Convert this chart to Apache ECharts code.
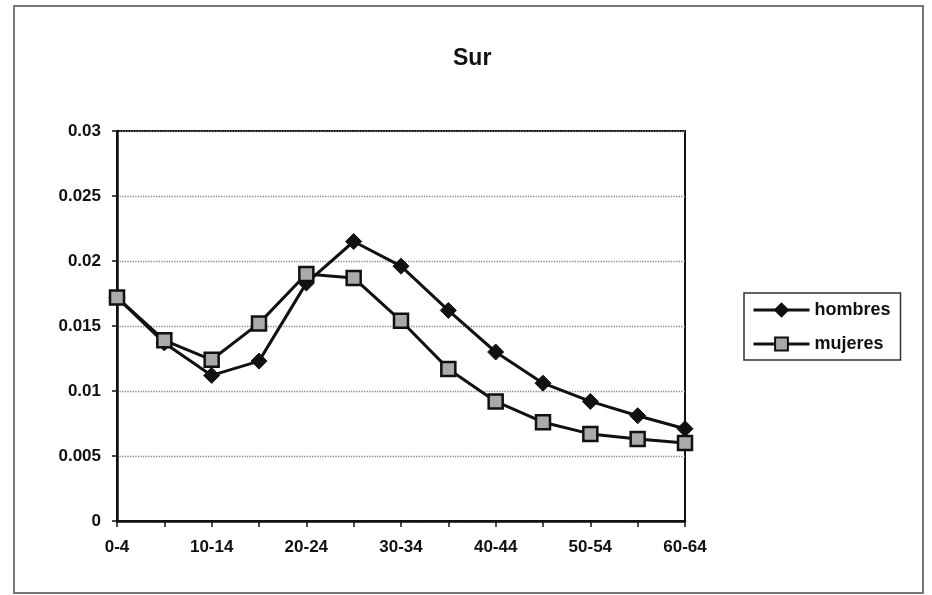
<!DOCTYPE html>
<html>
<head>
<meta charset="utf-8">
<script src="https://cdn.jsdelivr.net/npm/echarts@6/dist/echarts.min.js"></script>
<style>html,body{margin:0;padding:0;background:#fff}#c{width:932px;height:595px}</style>
</head>
<body>
<div id="c"></div>
<script>
var titleText = 'Sur';
var categories = ['0-4','5-9','10-14','15-19','20-24','25-29','30-34','35-39','40-44','45-49','50-54','55-59','60-64'];
var hombres = [0.0172,0.0137,0.0112,0.0123,0.0183,0.0215,0.0196,0.0162,0.0130,0.0106,0.0092,0.0081,0.0071];
var mujeres = [0.0172,0.0139,0.0124,0.0152,0.0190,0.0187,0.0154,0.0117,0.0092,0.0076,0.0067,0.0063,0.0060];
var seriesNames = ['hombres','mujeres'];

var chart = echarts.init(document.getElementById('c'), null, {renderer:'canvas'});
var font = 'Liberation Sans, Arial, sans-serif';
chart.setOption({
  animation:false,
  backgroundColor:'#fff',
  graphic:[{type:'rect', shape:{x:14,y:6,width:909,height:587}, style:{fill:'none', stroke:'#777', lineWidth:2}, silent:true}],
  title:{text:titleText, left:448, top:42, textStyle:{fontFamily:font, fontSize:23, fontWeight:'bold', color:'#111'}},
  legend:{
    orient:'vertical', left:744, top:293,
    data:seriesNames,
    itemWidth:56, itemHeight:16, itemGap:14,
    padding:[7,10,6,8],
    borderColor:'#333', borderWidth:1.5,
    lineStyle:{width:3, color:'#111'},
    textStyle:{fontFamily:font, fontSize:18, fontWeight:'bold', color:'#111', lineHeight:20}
  },
  grid:{left:117, right:247, top:131, bottom:74, show:true, borderColor:'#111', borderWidth:2, backgroundColor:'transparent'},
  xAxis:{
    type:'category', data:categories, boundaryGap:false,
    axisLine:{lineStyle:{color:'#111', width:2.5}},
    axisTick:{show:true, interval:0, length:6, lineStyle:{color:'#111', width:1.5}},
    axisLabel:{interval:1, margin:18, fontFamily:font, fontSize:17, fontWeight:'bold', color:'#111'},
    splitLine:{show:false}
  },
  yAxis:{
    type:'value', min:0, max:0.03, interval:0.005,
    axisLine:{show:true, lineStyle:{color:'#111', width:2.5}},
    axisTick:{show:true, length:5, lineStyle:{color:'#111', width:1.5}},
    axisLabel:{margin:16, fontFamily:font, fontSize:17, fontWeight:'bold', color:'#111'},
    splitLine:{show:true, lineStyle:{color:'#888', type:'dotted', width:1.3}}
  },
  series:[
    {name:seriesNames[0], type:'line', data:hombres, symbol:'diamond', symbolSize:16,
     lineStyle:{color:'#111', width:3}, itemStyle:{color:'#111', borderColor:'#111', borderWidth:1}, z:3},
    {name:seriesNames[1], type:'line', data:mujeres, symbol:'rect', symbolSize:14,
     lineStyle:{color:'#111', width:3}, itemStyle:{color:'#aaa', borderColor:'#111', borderWidth:2.5}, z:4}
  ]
});
</script>
</body>
</html>
